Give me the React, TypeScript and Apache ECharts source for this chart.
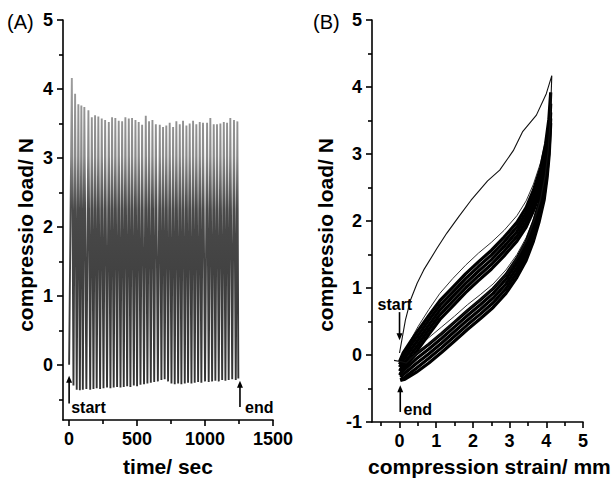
import React, { useEffect, useRef } from "react";
import * as echarts from "echarts";

// ---------- Panel A: load vs time ----------
const timeTicks = [0, 500, 1000, 1500];
const timeMinorTicks = [250, 750, 1250];
const loadTicksA = [0, 1, 2, 3, 4, 5];
const loadMinorTicksA = [-0.5, 0.5, 1.5, 2.5, 3.5, 4.5];

const startTime = 0;
const startLoad = 0.0;
const peakTimes = [20, 44, 68, 90, 112, 142, 167, 191, 215, 240, 265, 292, 316, 340, 365, 390, 414, 439, 463, 488, 512, 537, 564, 588, 613, 638, 667, 691, 715, 740, 765, 789, 814, 838, 863, 887, 912, 936, 961, 985, 1015, 1039, 1064, 1088, 1113, 1138, 1162, 1186, 1213, 1238];
const peakLoads = [4.16, 3.93, 3.78, 3.76, 3.74, 3.69, 3.59, 3.62, 3.6, 3.57, 3.55, 3.52, 3.59, 3.58, 3.54, 3.53, 3.59, 3.57, 3.58, 3.55, 3.52, 3.48, 3.61, 3.53, 3.55, 3.49, 3.48, 3.45, 3.47, 3.51, 3.45, 3.53, 3.49, 3.54, 3.47, 3.5, 3.54, 3.49, 3.52, 3.51, 3.51, 3.58, 3.49, 3.49, 3.5, 3.52, 3.51, 3.58, 3.55, 3.53];
const troughTimes = [32, 56, 79, 101, 127, 155, 179, 203, 228, 253, 279, 304, 328, 353, 378, 402, 427, 451, 476, 500, 525, 551, 576, 601, 626, 653, 679, 703, 728, 753, 777, 802, 826, 851, 875, 900, 924, 949, 973, 1000, 1027, 1052, 1076, 1101, 1126, 1150, 1174, 1200, 1226, 1245];
const troughLoads = [-0.3, -0.36, -0.37, -0.36, -0.35, -0.36, -0.35, -0.34, -0.35, -0.34, -0.33, -0.34, -0.33, -0.32, -0.33, -0.32, -0.31, -0.32, -0.3, -0.31, -0.29, -0.28, -0.27, -0.26, -0.25, -0.24, -0.22, -0.21, -0.24, -0.27, -0.28, -0.27, -0.28, -0.27, -0.26, -0.27, -0.26, -0.25, -0.26, -0.24, -0.25, -0.24, -0.23, -0.24, -0.22, -0.23, -0.22, -0.21, -0.22, -0.2];

// ---------- Panel B: load vs strain ----------
const strainTicks = [0, 1, 2, 3, 4, 5];
const strainMinorTicks = [-0.5, 0.5, 1.5, 2.5, 3.5, 4.5];
const loadTicksB = [-1, 0, 1, 2, 3, 4, 5];
const loadMinorTicksB = [-0.5, 0.5, 1.5, 2.5, 3.5, 4.5];

// first cycle
const firstLoadStrain = [0.0, 0.16, 0.3, 0.48, 0.66, 1.03, 1.29, 1.62, 1.95, 2.4, 2.73, 3.1, 3.35, 3.73, 4.0, 4.15];
const firstLoadForce = [0.03, 0.52, 0.82, 1.07, 1.27, 1.6, 1.82, 2.07, 2.31, 2.6, 2.76, 3.05, 3.33, 3.58, 3.9, 4.17];
const firstUnloadStrain = [4.15, 4.11, 4.05, 3.97, 3.84, 3.68, 3.48, 3.23, 2.93, 2.58, 2.23, 1.88, 1.53, 1.18, 0.83, 0.48, 0.18, 0.05, -0.15];
const firstUnloadForce = [4.17, 3.55, 3.05, 2.68, 2.32, 2.03, 1.73, 1.47, 1.22, 1.01, 0.84, 0.68, 0.51, 0.34, 0.18, 0.03, -0.12, -0.1, -0.08];

// later cycles (loading branch strain grid, unloading branch strain grid)
const loadStrain = [0.0, 0.1, 0.3, 0.5, 0.8, 1.1, 1.45, 1.8, 2.15, 2.5, 2.85, 3.2, 3.45, 3.65, 3.85, 3.98, 4.07, 4.12];
const unloadStrain = [4.12, 4.08, 4.02, 3.94, 3.8, 3.65, 3.45, 3.2, 2.9, 2.55, 2.2, 1.85, 1.5, 1.15, 0.8, 0.45, 0.15, 0.02];

const cycleP_load = [-0.1, 0.03, 0.2, 0.36, 0.59, 0.81, 1.01, 1.21, 1.39, 1.56, 1.76, 1.98, 2.2, 2.46, 2.8, 3.15, 3.52, 3.92];
const cycleP_unload = [3.92, 3.4, 2.96, 2.6, 2.26, 1.98, 1.69, 1.44, 1.2, 0.99, 0.82, 0.66, 0.49, 0.32, 0.16, 0.01, -0.15, -0.22];
const cycleQ_load = [-0.14, -0.02, 0.14, 0.29, 0.52, 0.74, 0.94, 1.14, 1.32, 1.49, 1.69, 1.91, 2.12, 2.38, 2.71, 3.05, 3.41, 3.75];
const cycleQ_unload = [3.75, 3.3, 2.88, 2.52, 2.19, 1.91, 1.62, 1.37, 1.13, 0.92, 0.75, 0.59, 0.42, 0.25, 0.09, -0.06, -0.21, -0.28];
const cycleC_load = [-0.18, -0.08, 0.07, 0.22, 0.45, 0.67, 0.87, 1.07, 1.25, 1.42, 1.62, 1.84, 2.05, 2.3, 2.62, 2.95, 3.3, 3.62];
const cycleC_unload = [3.62, 3.2, 2.8, 2.45, 2.12, 1.84, 1.55, 1.3, 1.06, 0.85, 0.68, 0.52, 0.35, 0.18, 0.02, -0.13, -0.27, -0.33];
const cycleR_load = [-0.24, -0.15, 0.0, 0.15, 0.38, 0.6, 0.8, 1.0, 1.18, 1.35, 1.55, 1.77, 1.98, 2.22, 2.54, 2.86, 3.2, 3.53];
const cycleR_unload = [3.53, 3.1, 2.72, 2.38, 2.05, 1.77, 1.48, 1.23, 0.99, 0.78, 0.61, 0.45, 0.28, 0.11, -0.05, -0.2, -0.33, -0.37];
const cycleS_load = [-0.3, -0.22, -0.07, 0.08, 0.31, 0.53, 0.73, 0.93, 1.11, 1.28, 1.48, 1.7, 1.91, 2.15, 2.46, 2.78, 3.12, 3.46];
const cycleS_unload = [3.46, 3.0, 2.64, 2.31, 1.98, 1.7, 1.41, 1.16, 0.92, 0.71, 0.54, 0.38, 0.21, 0.04, -0.12, -0.26, -0.36, -0.38];
const cycleT_load = [-0.12, 0.0, 0.22, 0.42, 0.68, 0.92, 1.14, 1.34, 1.52, 1.68, 1.86, 2.08, 2.3, 2.55, 2.88, 3.2, 3.52, 3.85];
const cycleT_unload = [3.85, 3.35, 2.95, 2.62, 2.3, 2.03, 1.75, 1.5, 1.27, 1.06, 0.9, 0.75, 0.58, 0.42, 0.26, 0.1, -0.08, -0.18];

const FONT = "'Liberation Sans', Arial, Helvetica, sans-serif";

function zip(xs: number[], ys: number[]) {
  return xs.map((x, i) => [x, ys[i]]);
}

function mainAxis(gridIndex: number, min: number, max: number, ticks: number[], position: string) {
  return {
    type: "value",
    gridIndex,
    min,
    max,
    position,
    axisLine: { show: true, onZero: false, lineStyle: { color: "#000", width: 1.6 } },
    axisTick: { show: true, inside: false, customValues: ticks, length: 6, lineStyle: { color: "#000", width: 1.6 } },
    axisLabel: {
      show: true,
      customValues: ticks,
      margin: 10,
      color: "#000",
      fontSize: 18,
      fontWeight: "bold",
      fontFamily: FONT,
      formatter: (v: number) => String(v),
    },
    splitLine: { show: false },
  };
}

function minorAxis(gridIndex: number, min: number, max: number, ticks: number[], position: string) {
  return {
    type: "value",
    gridIndex,
    min,
    max,
    position,
    axisLine: { show: false, onZero: false },
    axisTick: { show: true, inside: false, customValues: ticks, length: 4, lineStyle: { color: "#000", width: 1.6 } },
    axisLabel: { show: false },
    splitLine: { show: false },
  };
}

export default function App() {
  const ref = useRef<HTMLDivElement>(null);

  useEffect(() => {
    if (!ref.current) return;
    const chart = echarts.init(ref.current, null, { renderer: "svg" });

    const seriesA: number[][] = [[startTime, startLoad]];
    peakTimes.forEach((t, i) => {
      seriesA.push([t, peakLoads[i]]);
      seriesA.push([troughTimes[i], troughLoads[i]]);
    });

    const bandCycles = [
      [cycleP_load, cycleP_unload],
      [cycleQ_load, cycleQ_unload],
      [cycleC_load, cycleC_unload],
      [cycleR_load, cycleR_unload],
      [cycleS_load, cycleS_unload],
    ];

    const lineB = (data: number[][], width: number, color: string) => ({
      type: "line",
      xAxisIndex: 2,
      yAxisIndex: 2,
      data,
      symbol: "none",
      lineStyle: { color, width },
      silent: true,
    });

    const seriesB: any[] = [];
    seriesB.push(lineB(zip(loadStrain, cycleT_load).concat(zip(unloadStrain, cycleT_unload)), 1, "#333"));
    bandCycles.forEach(([l, u]) => {
      seriesB.push(lineB(zip(loadStrain, l).concat(zip(unloadStrain, u)), 3.2, "#000"));
    });
    seriesB.push(lineB(zip(firstLoadStrain, firstLoadForce).concat(zip(firstUnloadStrain, firstUnloadForce)), 1.1, "#111"));

    const gradA = new echarts.graphic.LinearGradient(0, 0, 0, 1, [
      { offset: 0, color: "#9c9c9c" },
      { offset: 0.25, color: "#8a8a8a" },
      { offset: 0.42, color: "#4a4a4a" },
      { offset: 1, color: "#333333" },
    ]);

    chart.setOption({
      animation: false,
      backgroundColor: "#fff",
      grid: [
        { left: 63, top: 20, width: 210, height: 400 },
        { left: 372, top: 20, width: 211, height: 402 },
      ],
      xAxis: [
        mainAxis(0, -45, 1500, timeTicks, "bottom"),
        minorAxis(0, -45, 1500, timeMinorTicks, "bottom"),
        mainAxis(1, -0.75, 5, strainTicks, "bottom"),
        minorAxis(1, -0.75, 5, strainMinorTicks, "bottom"),
      ],
      yAxis: [
        mainAxis(0, -0.8, 5, loadTicksA, "left"),
        minorAxis(0, -0.8, 5, loadMinorTicksA, "left"),
        mainAxis(1, -1, 5, loadTicksB, "left"),
        minorAxis(1, -1, 5, loadMinorTicksB, "left"),
      ],
      series: [
        {
          type: "line",
          xAxisIndex: 0,
          yAxisIndex: 0,
          data: seriesA,
          symbol: "none",
          lineStyle: { color: gradA, width: 1.9 },
          silent: true,
        },
        ...seriesB,
      ],
    });

    const pA = (x: number, y: number) => chart.convertToPixel({ xAxisIndex: 0, yAxisIndex: 0 }, [x, y]) as number[];
    const pB = (x: number, y: number) => chart.convertToPixel({ xAxisIndex: 2, yAxisIndex: 2 }, [x, y]) as number[];

    const arrow = (tail: number[], tip: number[]) => {
      const dir = tip[1] < tail[1] ? -1 : 1; // -1 pointing up
      const head = 7;
      const half = 3;
      return [
        {
          type: "line",
          shape: { x1: tail[0], y1: tail[1], x2: tip[0], y2: tip[1] - dir * head * 0.6 },
          style: { stroke: "#000", lineWidth: 1.6 },
          silent: true,
        },
        {
          type: "polygon",
          shape: {
            points: [
              [tip[0], tip[1]],
              [tip[0] - half, tip[1] - dir * head],
              [tip[0] + half, tip[1] - dir * head],
            ],
          },
          style: { fill: "#000" },
          silent: true,
        },
      ];
    };

    const label = (pos: number[], text: string, size = 16, weight = "bold", align = "left") => ({
      type: "text",
      x: pos[0],
      y: pos[1],
      style: {
        text,
        fill: "#000",
        font: `${weight} ${size}px ${FONT}`,
        align,
        verticalAlign: "middle",
      },
      silent: true,
    });

    const graphic: any[] = [
      ...arrow(pA(0, -0.56), pA(0, -0.16)),
      ...arrow(pA(1257, -0.61), pA(1257, -0.23)),
      label(pA(15, -0.62), "start"),
      label(pA(1294, -0.62), "end"),
      ...arrow(pB(0, 0.64), pB(0, 0.22)),
      ...arrow(pB(0.02, -0.85), pB(0.02, -0.45)),
      label(pB(-0.6, 0.76), "start"),
      label(pB(0.11, -0.81), "end"),
      label([7, 22], "(A)", 20, "normal"),
      label([313, 22], "(B)", 20, "normal"),
      {
        type: "text",
        x: 25,
        y: 235,
        rotation: Math.PI / 2,
        style: { text: "compressio load/ N", fill: "#000", font: `bold 21px ${FONT}`, align: "center", verticalAlign: "middle" },
        silent: true,
      },
      {
        type: "text",
        x: 325,
        y: 235,
        rotation: Math.PI / 2,
        style: { text: "compressio load/ N", fill: "#000", font: `bold 21px ${FONT}`, align: "center", verticalAlign: "middle" },
        silent: true,
      },
      label([168, 466], "time/ sec", 21, "bold", "center"),
      label([368, 466], "compression strain/ mm", 21, "bold", "left"),
    ];

    chart.setOption({ graphic });

    return () => chart.dispose();
  }, []);

  return (
    <div
      ref={ref}
      style={{ position: "fixed", left: 0, top: 0, width: 615, height: 480, background: "#fff" }}
    />
  );
}
